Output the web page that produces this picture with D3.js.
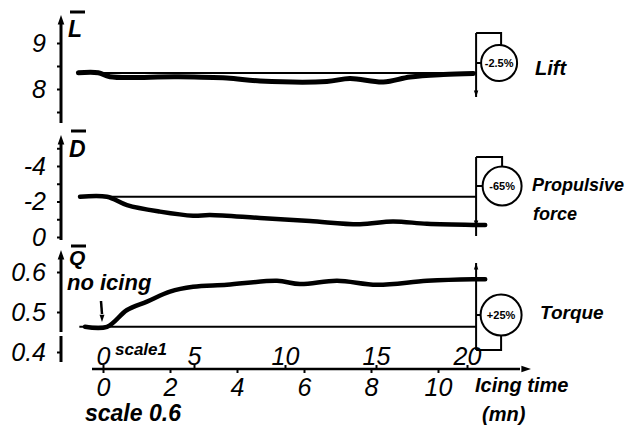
<!DOCTYPE html>
<html><head><meta charset="utf-8">
<script src="https://cdn.jsdelivr.net/npm/d3@7"></script>
<style>body{margin:0;background:#fff}</style>
</head><body><svg id="c" width="628" height="428"></svg>
<script>
// ---- data ----
const scale1Ticks = [0, 5, 10, 15, 20];
const scale06Ticks = [0, 2, 4, 6, 8, 10];
const liftTicks = [7.5, 8, 8.5, 9];
const liftTickLabels = [8, 9];
const dragTicks = [-5, -4, -3, -2, -1, 0];
const dragTickLabels = [-4, -2, 0];
const torqueTicks = [0.4, 0.5, 0.6];

const liftTime  = [-1.35, -0.26, 0.38, 4.05, 6.8, 8.63, 12.3, 13.57, 15.4, 16.87, 18.7, 20.35];
const liftValue = [8.354, 8.354, 8.267, 8.267, 8.239, 8.174, 8.163, 8.228, 8.152, 8.261, 8.315, 8.337];
const liftRef = 8.35;

const dragTime  = [-1.26, 0.22, 1.32, 3.13, 4.95, 5.88, 8.63, 11.37, 14.12, 15.93, 17.8, 20.33, 21.0];
const dragValue = [-2.27, -2.27, -1.80, -1.43, -1.20, -1.24, -1.07, -0.90, -0.72, -0.88, -0.74, -0.68, -0.68];
const dragRef = -2.27;

const torqueTime  = [-0.99, 0.22, 1.32, 2.42, 3.68, 4.95, 6.81, 9.56, 10.82, 12.86, 15.05, 17.8, 20.33, 21.0];
const torqueValue = [0.463, 0.463, 0.505, 0.526, 0.551, 0.563, 0.568, 0.578, 0.570, 0.578, 0.568, 0.578, 0.582, 0.582];
const torqueRef = 0.463;

const refStart = -1.3, markerTime = 20.5;
const changes = ["-2.5%", "-65%", "+25%"];
const seriesNames = ["Lift", "Propulsive", "force", "Torque"];

// ---- drawing ----
const svg = d3.select("#c");
const numFont = "'Liberation Sans', Arial, sans-serif";
const x = d3.scaleLinear().domain([0, 20]).range([103, 467]);
const x06 = d3.scaleLinear().domain([0, 10]).range([103, 438]);
const yL = d3.scaleLinear().domain([8, 9]).range([89, 43]);
const yD = d3.scaleLinear().domain([-4, 0]).range([166, 237]);
const yQ = d3.scaleLinear().domain([0.5, 0.6]).range([312, 272]);
const axX = 61;

function arrowHead(g, cx, cy, dir, size) {
  const s = size || 7;
  let pts;
  if (dir === "up") pts = [[cx, cy], [cx - s * 0.55, cy + s * 1.6], [cx + s * 0.55, cy + s * 1.6]];
  else if (dir === "down") pts = [[cx, cy], [cx - s * 0.55, cy - s * 1.6], [cx + s * 0.55, cy - s * 1.6]];
  else pts = [[cx, cy], [cx - s * 1.6, cy - s * 0.55], [cx - s * 1.6, cy + s * 0.55]];
  g.append("path").attr("d", "M" + pts.join("L") + "Z").attr("fill", "#000");
}

function yAxis(scale, ticks, labels, fmt, top, bottom) {
  const g = svg.append("g").attr("transform", `translate(${axX},0)`);
  g.call(d3.axisLeft(scale).tickValues(ticks).tickSize(4).tickPadding(11)
    .tickFormat(d => labels.includes(d) ? fmt(d) : ""));
  g.select(".domain").remove();
  g.selectAll(".tick line").attr("stroke-width", 2);
  g.selectAll(".tick text").attr("font-family", numFont).attr("font-style", "italic")
    .attr("font-size", 25).attr("fill", "#000");
  svg.append("line").attr("x1", axX).attr("x2", axX).attr("y1", top + 8).attr("y2", bottom)
    .attr("stroke", "#000").attr("stroke-width", 3);
  arrowHead(svg, axX, top, "up", 6);
}

yAxis(yL, liftTicks, liftTickLabels, d => d, 15, 123);
yAxis(yD, dragTicks, dragTickLabels, d => d === 0 ? "0" : "-" + Math.abs(d), 135, 240);
yAxis(yQ, torqueTicks, torqueTicks, d => d.toFixed(1), 250, 332);
svg.append("line").attr("x1", axX).attr("x2", axX).attr("y1", 336).attr("y2", 362)
  .attr("stroke", "#000").attr("stroke-width", 3);

// axis titles with overbar
[["L", 68, 37, 12, 23], ["D", 69, 157, 131, 23], ["Q", 69, 265, 246, 21]].forEach(([t, tx, ty, by, fs]) => {
  svg.append("text").attr("x", tx).attr("y", ty).text(t)
    .attr("font-family", numFont).attr("font-style", "italic").attr("font-weight", "bold")
    .attr("font-size", fs).attr("fill", "#000");
  svg.append("line").attr("x1", tx + 2).attr("x2", tx + 17).attr("y1", by).attr("y2", by)
    .attr("stroke", "#000").attr("stroke-width", 3);
});

// x axes
const axY = 369;
const gTop = svg.append("g").attr("transform", `translate(0,${axY})`)
  .call(d3.axisTop(x).tickValues(scale1Ticks).tickSize(4).tickPadding(0));
const gBot = svg.append("g").attr("transform", `translate(0,${axY})`)
  .call(d3.axisBottom(x06).tickValues(scale06Ticks).tickSize(4).tickPadding(5));
[gTop, gBot].forEach(g => {
  g.select(".domain").remove();
  g.selectAll(".tick line").attr("stroke-width", 2);
  g.selectAll(".tick text").attr("font-family", numFont).attr("font-style", "italic")
    .attr("font-size", 25).attr("fill", "#000");
});
svg.append("line").attr("x1", 92).attr("x2", 520).attr("y1", axY).attr("y2", axY)
  .attr("stroke", "#000").attr("stroke-width", 2.5);
arrowHead(svg, 531, axY, "right", 6);

const boldIt = (t, px, py, size) => svg.append("text").attr("x", px).attr("y", py).text(t)
  .attr("font-family", numFont).attr("font-style", "italic").attr("font-weight", "bold")
  .attr("font-size", size).attr("fill", "#000");
boldIt("scale1", 115, 355, 17);
boldIt("scale 0.6", 85, 421, 23);
boldIt("Icing time", 475, 392, 20);
boldIt("(mn)", 482, 421, 20);
boldIt("no icing", 67, 290, 22);
boldIt(seriesNames[0], 535, 75, 20);
boldIt(seriesNames[1], 532, 191, 18);
boldIt(seriesNames[2], 533, 220, 18);
boldIt(seriesNames[3], 540, 319, 19);

// "no icing" arrow
svg.append("line").attr("x1", 101).attr("x2", 102).attr("y1", 301).attr("y2", 314)
  .attr("stroke", "#000").attr("stroke-width", 2.5);
arrowHead(svg, 102, 322, "down", 4.5);

// reference lines and curves
const line = d3.line().curve(d3.curveCatmullRom.alpha(0.5));
function series(ts, vs, ref, ys, w) {
  svg.append("line").attr("x1", x(refStart)).attr("x2", x(markerTime))
    .attr("y1", ys(ref)).attr("y2", ys(ref)).attr("stroke", "#000").attr("stroke-width", 2);
  svg.append("path").attr("d", line(ts.map((t, i) => [x(t), ys(vs[i])])))
    .attr("fill", "none").attr("stroke", "#000").attr("stroke-width", w)
    .attr("stroke-linecap", "round").attr("stroke-linejoin", "round");
}
series(liftTime, liftValue, liftRef, yL, 5);
series(dragTime, dragValue, dragRef, yD, 4.5);
series(torqueTime, torqueValue, torqueRef, yQ, 4.5);

// change markers
const mx = x(markerTime);
function circ(cx, cy, r, label) {
  svg.append("circle").attr("cx", cx).attr("cy", cy).attr("r", r)
    .attr("fill", "#fff").attr("stroke", "#000").attr("stroke-width", 2);
  svg.append("line").attr("x1", mx).attr("x2", cx - r).attr("y1", cy).attr("y2", cy)
    .attr("stroke", "#000").attr("stroke-width", 2);
  svg.append("text").attr("x", cx).attr("y", cy + 4).attr("text-anchor", "middle").text(label)
    .attr("font-family", numFont).attr("font-weight", "bold").attr("font-size", 11).attr("fill", "#000");
}
const ms = (y1, y2) => svg.append("line").attr("x1", mx).attr("x2", mx).attr("y1", y1).attr("y2", y2)
  .attr("stroke", "#000").attr("stroke-width", 2);
const path = (d) => svg.append("path").attr("d", d).attr("fill", "none").attr("stroke", "#000").attr("stroke-width", 2);

// lift
ms(33, 97);
path(`M${mx},33H${mx + 25}V45`);
arrowHead(svg, mx, 97, "down", 4);
circ(mx + 23, 63, 18, changes[0]);
// drag
ms(157, 236);
path(`M${mx},157H${mx + 26}V167`);
arrowHead(svg, mx, yD(dragValue[dragValue.length - 1]) + 2, "down", 4);
circ(mx + 26, 186, 19.5, changes[1]);
// torque
ms(263, 350);
path(`M${mx + 25},336V350H${mx}`);
arrowHead(svg, mx, 263, "up", 4);
circ(mx + 25, 315, 20.5, changes[2]);
</script></body></html>
